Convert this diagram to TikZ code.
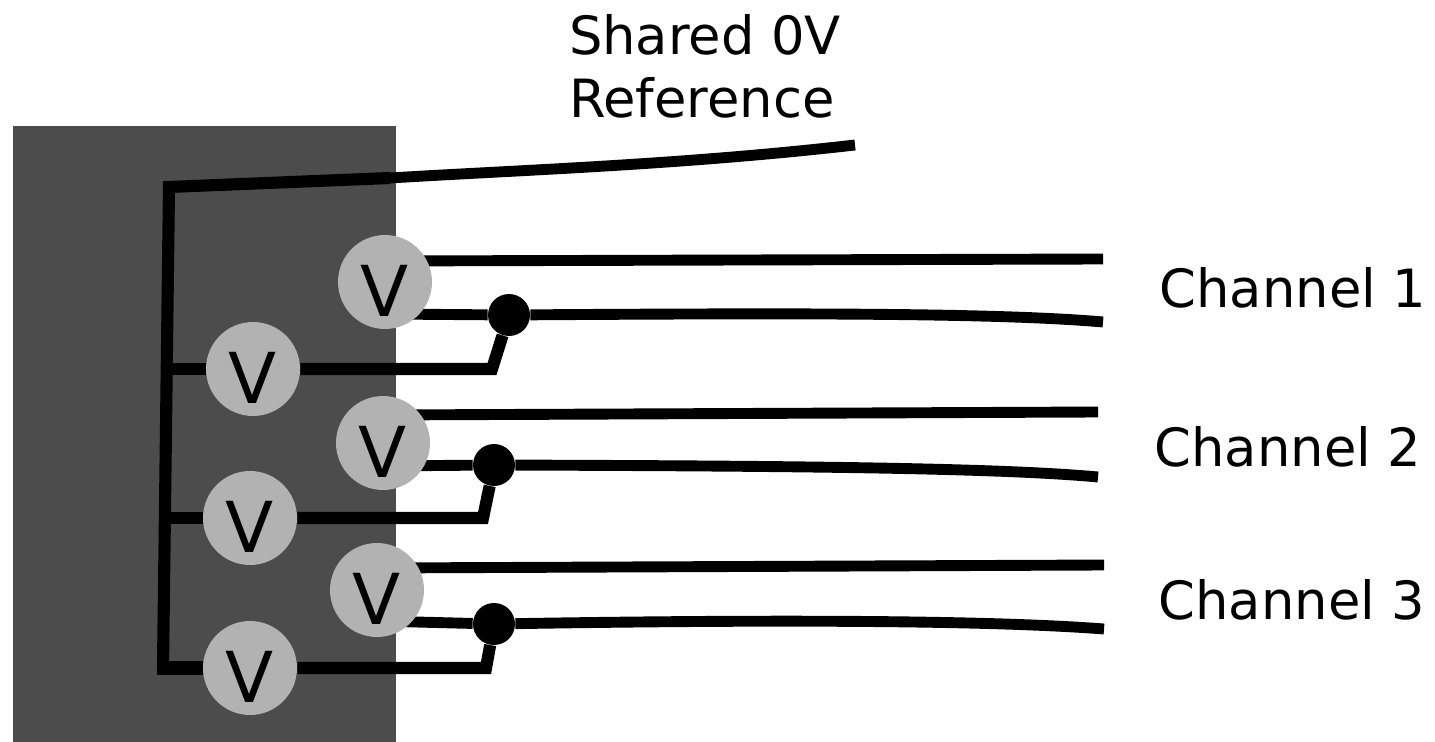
\documentclass[tikz,border=0pt]{standalone}
\usepackage{fontspec}
\setmainfont{DejaVu Sans}
\usetikzlibrary{calc,
positioning}
\pgfdeclarelayer{back}
\pgfsetlayers{back,main}
\definecolor{boxgray}{gray}{0.30}
\definecolor{metergray}{gray}{0.70}

\begin{document}
\begin{tikzpicture} [x = .02cm,
  y = -.02cm,
  wire/.style={line width = 6.2pt, black},
  rail/.style={line width = 6.9pt, black},
  meter/.style={circle, fill = metergray, minimum size = 1.88cm, inner sep = 0,
      text height = 1.38cm, text depth = 0,
      font = \fontsize{40}{40}\selectfont},
  joint/.style={circle, fill = black, minimum size = .84cm, inner sep = 0},
  label/.style={font = \fontsize{30}{36}\selectfont, align = left}]

  \useasboundingbox (0,0) rectangle (1435,742);

  \begin{pgfonlayer}{back}
    \node [fill = boxgray, minimum width = 7.66cm, minimum height = 12.32cm,
      inner sep = 0, anchor = north west
    ] (panel) at (13,126) {};
  \end{pgfonlayer}

  % meters
  \node [meter] (va) at (385,282) {V};
  \node [meter] (vb) at (253,369) {V};
  \node [meter] (vc) at (383,443) {V};
  \node [meter] (vd) at (250,518) {V};
  \node [meter] (ve) at (377,590) {V};
  \node [meter] (vf) at (250,668) {V};

  \node [joint] (ja) at (509,315) {};
  \node [joint] (jb) at (494,465) {};
  \node [joint] (jc) at (494,624) {};

  \coordinate (refend) at (855,145);
  \coordinate (refmid) at (390,178);
  \coordinate (railtop) at (169,187);
  \coordinate (railbot) at (163,668);

  \coordinate (taila) at (1103,259);
  \coordinate (tailb) at (1103,322);
  \coordinate (tailc) at (1098,412);
  \coordinate (taild) at (1098,477);
  \coordinate (taile) at (1104,565);
  \coordinate (tailf) at (1104,629);

  \begin{pgfonlayer}{back}
    % shared reference rail
    \draw [wire] (refend) .. controls (680,165) and (520,170) .. (refmid);
    \draw [rail] (refmid) -- (railtop) -- (railbot);
    \draw [line width = 8.5pt] ($(railbot) + (-6, 0)$) -- (vf);

    % rail branches
    \draw [rail] (166,369) -- (vb);
    \draw [rail] (165,518) -- (vd);

    % channel 1
    \draw [wire] (va.center |- 0,261) -- (taila);
    \draw [wire] (va.center |- 0,314) -- (ja);
    \draw [wire] (ja) .. controls (800,313) and (1000,313) .. (tailb);
    \draw [rail] (vb) -- (492,369) -- (ja);

    % channel 2
    \draw [wire] (vc.center |- 0,415) -- (tailc);
    \draw [wire] (vc.center |- 0,466) -- (jb);
    \draw [wire] (jb) .. controls (800,466) and (1000,468) .. (taild);
    \draw [rail] (vd) -- (483,518) -- (jb);

    % channel 3
    \draw [wire] (ve.center |- 0,568) -- (taile);
    \draw [wire] (ve.center |- 0,621) -- (jc);
    \draw [wire] (jc) .. controls (800,619) and (1000,621) .. (tailf);
    \draw [rail] (vf) -- (486,668) -- (jc);
  \end{pgfonlayer}

  \node [label, anchor = center] (chana) at (1293,288) {Channel 1};
  \node [label, anchor = center] (chanb) at (1288,447) {Channel 2};
  \node [label, anchor = center] (chanc) at (1292,600) {Channel 3};
  \node [label, anchor = center] (shared) at (705,66) {Shared 0V\\Reference};

\end{tikzpicture}
\end{document}
